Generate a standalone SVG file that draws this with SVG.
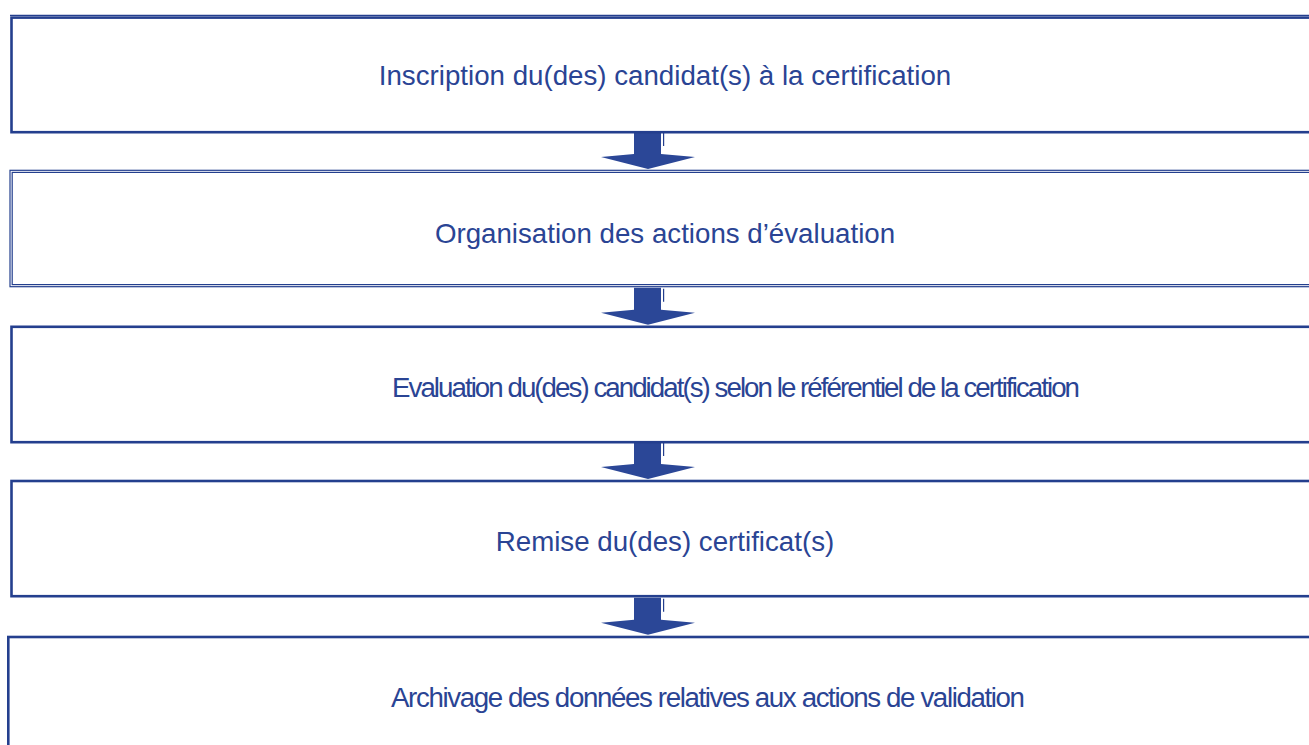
<svg xmlns="http://www.w3.org/2000/svg" xmlns:xlink="http://www.w3.org/1999/xlink" width="1309" height="745" viewBox="0 0 1309 745">
<style>
.bg{fill:#ffffff}
.thick{fill:none;stroke:#243f8e;stroke-width:2.6}
.thin{fill:none;stroke:#243f8e;stroke-width:1.2}
.lbl{font-family:"Liberation Sans",Arial,sans-serif;font-size:27.7px;fill:#2a4494;text-anchor:middle}
.arr{fill:#2b4797}
</style>
<defs>
<g id="arrow">
<path class="arr" d="M634,-25 H661 V-3 L695,0 L648,12 L601,0 L634,-3 Z"/>
<line x1="663.6" y1="-24" x2="663.6" y2="-11" stroke="#243f8e" stroke-width="1.2"/>
</g>
</defs>
<rect class="bg" x="0" y="0" width="1309" height="745"/>
<g id="connectors">
<use xlink:href="#arrow" transform="translate(0,157)"/>
<use xlink:href="#arrow" transform="translate(0,312.7)"/>
<use xlink:href="#arrow" transform="translate(0,467)"/>
<use xlink:href="#arrow" transform="translate(0,622.7)"/>
</g>
<g id="node1">
<line class="thin" x1="10" y1="15.3" x2="1320" y2="15.3"/>
<rect class="thick" x="11.5" y="17.6" width="1310" height="114.6"/>
<text class="lbl" x="665" y="85">Inscription du(des) candidat(s) à la certification</text>
</g>
<g id="node2">
<rect class="thin" x="10" y="170.3" width="1310" height="116.4"/>
<rect class="thin" x="12.2" y="172.4" width="1310" height="112.2"/>
<text class="lbl" x="665" y="243">Organisation des actions d’évaluation</text>
</g>
<g id="node3">
<rect class="thick" x="11.5" y="326.8" width="1310" height="115.4"/>
<text class="lbl" x="736" y="397" textLength="688" lengthAdjust="spacing">Evaluation du(des) candidat(s) selon le référentiel de la certification</text>
</g>
<g id="node4">
<rect class="thick" x="11.5" y="481" width="1310" height="115.2"/>
<text class="lbl" x="665" y="551">Remise du(des) certificat(s)</text>
</g>
<g id="node5">
<rect class="thick" x="8.3" y="637" width="1310" height="130"/>
<text class="lbl" x="708" y="707" textLength="634" lengthAdjust="spacing">Archivage des données relatives aux actions de validation</text>
</g>
</svg>
